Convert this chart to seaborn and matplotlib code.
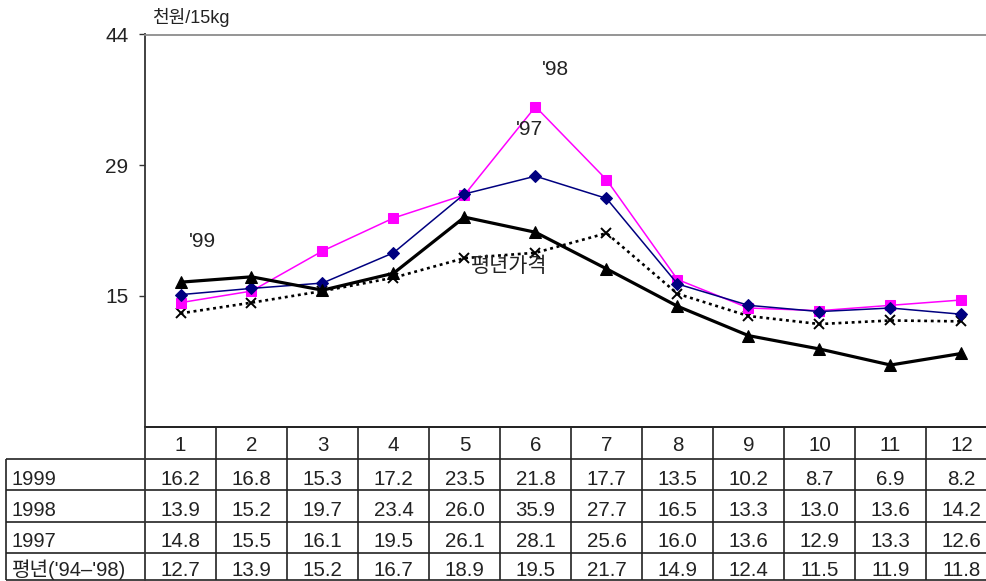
import matplotlib
matplotlib.use("Agg")
import matplotlib.pyplot as plt
import pandas as pd
import seaborn as sns

# Monthly prices (thousand won per 15kg)
months = list(range(1, 13))
month_labels = [str(m) for m in months]
price_1999 = [16.2, 16.8, 15.3, 17.2, 23.5, 21.8, 17.7, 13.5, 10.2, 8.7, 6.9, 8.2]
price_1998 = [13.9, 15.2, 19.7, 23.4, 26.0, 35.9, 27.7, 16.5, 13.3, 13.0, 13.6, 14.2]
price_1997 = [14.8, 15.5, 16.1, 19.5, 26.1, 28.1, 25.6, 16.0, 13.6, 12.9, 13.3, 12.6]
price_avg = [12.7, 13.9, 15.2, 16.7, 18.9, 19.5, 21.7, 14.9, 12.4, 11.5, 11.9, 11.8]
row_labels = ["1999", "1998", "1997", "평년('94–'98)"]
y_ticks = [44 / 3, 88 / 3, 44]
y_tick_labels = ["15", "29", "44"]
unit_label = "천원/15kg"

sns.set_style("white")
plt.rcParams["font.family"] = ["Liberation Sans", "Noto Sans CJK KR"]
plt.rcParams["text.color"] = "#222222"

W, H = 986, 581
fig = plt.figure(figsize=(W / 100, H / 100), dpi=100)

# geometry in pixels
plot_left, plot_top, plot_bottom = 145, 34.5, 426.5
col_w = 71.0
ax = fig.add_axes([plot_left / W, 1 - plot_bottom / H,
                   12 * col_w / W, (plot_bottom - plot_top) / H])

df = pd.DataFrame({"month": months, "1999": price_1999, "1998": price_1998,
                   "1997": price_1997, "avg": price_avg})

sns.lineplot(data=df, x="month", y="avg", ax=ax, color="black",
             linestyle=(0, (1.1, 1.4)), linewidth=1.9, marker="x",
             markersize=7, markeredgecolor="black", markeredgewidth=1.4,
             zorder=2)
sns.lineplot(data=df, x="month", y="1998", ax=ax, color="#FF00FF",
             linewidth=1.1, marker="s", markersize=7,
             markeredgecolor="#FF00FF", zorder=3)
sns.lineplot(data=df, x="month", y="1997", ax=ax, color="#000080",
             linewidth=1.1, marker="D", markersize=6,
             markeredgecolor="#000080", zorder=4)
sns.lineplot(data=df, x="month", y="1999", ax=ax, color="black",
             linewidth=2.3, marker="^", markersize=8.5,
             markeredgecolor="black", zorder=5)

ax.set_xlim(0.5, 12.5)
ax.set_ylim(0, 44)
ax.set_xticks([])
ax.set_yticks(y_ticks)
ax.set_yticklabels(y_tick_labels, fontsize=15, color="#222222")
ax.tick_params(axis="y", direction="out", length=4, width=1, color="#333333",
               pad=8, left=True)
ax.set_xlabel("")
ax.set_ylabel("")
ax.spines["right"].set_visible(False)
ax.spines["left"].set_color("#333333")
ax.spines["left"].set_linewidth(1.3)
ax.spines["top"].set_color("#8c8c8c")
ax.spines["top"].set_linewidth(1.3)
ax.spines["bottom"].set_color("#222222")
ax.spines["bottom"].set_linewidth(1.3)

# overlay in pixel coordinates for the data table and labels
ov = fig.add_axes([0, 0, 1, 1])
ov.set_xlim(0, W)
ov.set_ylim(H, 0)
ov.set_facecolor("none")
ov.axis("off")

line_kw = dict(color="#222222", linewidth=1.2, solid_capstyle="butt")
row_edges = [426.5, 458.7, 490.3, 521.7, 552.7, 580.0]
label_left = 5.5
right = W + 20

# horizontal rules
for i, y in enumerate(row_edges):
    x0 = plot_left if i == 0 else label_left
    ov.plot([x0, right], [y, y], **line_kw)
# vertical rules
ov.plot([label_left, label_left], [row_edges[1], row_edges[-1]], **line_kw)
ov.plot([plot_left, plot_left], [plot_bottom, row_edges[-1]], color="#333333",
        linewidth=1.3)
for k in range(1, 13):
    x = plot_left + k * col_w
    ov.plot([x, x], [row_edges[0], row_edges[-1]], **line_kw)

# header (months)
for m, lab in zip(months, month_labels):
    cx = plot_left + (m - 0.5) * col_w
    ov.text(cx, row_edges[1] - 8, lab, ha="center", va="baseline", fontsize=14.8)

# body rows
series = [price_1999, price_1998, price_1997, price_avg]
for r, (lab, vals) in enumerate(zip(row_labels, series)):
    top, bot = row_edges[r + 1], row_edges[r + 2]
    base = bot - 5.5 if r < 3 else bot - 3.8
    ov.text(label_left + 6, base, lab, ha="left", va="baseline", fontsize=14.5)
    for m, v in zip(months, vals):
        cx = plot_left + (m - 0.5) * col_w
        ov.text(cx, base, f"{v:.1f}", ha="center", va="baseline", fontsize=14.8)

# unit and series labels
ov.text(152, 23, unit_label, ha="left", va="baseline", fontsize=13)
ov.text(189, 247, "'99", ha="left", va="baseline", fontsize=15)
ov.text(542, 75, "'98", ha="left", va="baseline", fontsize=15)
ov.text(516, 135, "'97", ha="left", va="baseline", fontsize=15)
ov.text(471, 272, "평년가격", ha="left", va="baseline", fontsize=15)

fig.savefig("out.png", dpi=100)
